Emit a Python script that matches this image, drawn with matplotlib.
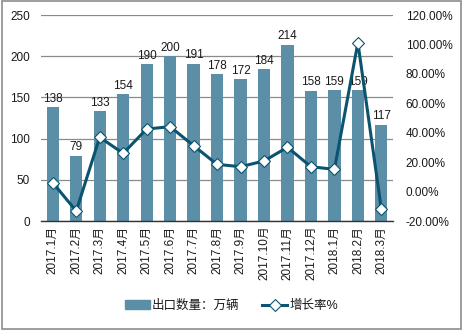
import matplotlib
matplotlib.use("Agg")
import matplotlib.pyplot as plt
from matplotlib.patches import Rectangle
from matplotlib.lines import Line2D
from matplotlib.ticker import FuncFormatter

plt.rcParams['font.family'] = ['Liberation Sans', 'Noto Sans CJK SC', 'DejaVu Sans']

months = ["2017.1月", "2017.2月", "2017.3月", "2017.4月", "2017.5月", "2017.6月",
          "2017.7月", "2017.8月", "2017.9月", "2017.10月", "2017.11月", "2017.12月",
          "2018.1月", "2018.2月", "2018.3月"]
export_qty = [138, 79, 133, 154, 190, 200, 191, 178, 172, 184, 214, 158, 159, 159, 117]
growth_pct = [6.0, -13.2, 36.9, 26.0, 42.5, 44.1, 31.2, 18.5, 16.9, 20.8, 30.1, 16.9,
              15.1, 101.2, -12.0]

bar_color = "#5b8fa7"
line_color = "#0b5470"
text_color = "#1a1a1a"

fig = plt.figure(figsize=(4.63, 3.30), dpi=100)
fig.patches.append(Rectangle((0.004, 0.004), 0.992, 0.992, transform=fig.transFigure,
                             fill=False, edgecolor="#8c8c8c", linewidth=1.2))

ax = fig.add_axes([0.0886, 0.3303, 0.7604, 0.6242])
x = list(range(len(months)))
bars = ax.bar(x, export_qty, width=0.52, color=bar_color, zorder=2)
ax.set_xlim(-0.5, len(months) - 0.5)
ax.set_ylim(0, 250)
ax.set_yticks([0, 50, 100, 150, 200, 250])
ax.grid(axis='y', color="#8a8a8a", linewidth=0.9, zorder=0)
ax.set_axisbelow(True)
for s in ["left", "right", "top"]:
    ax.spines[s].set_visible(False)
ax.spines["bottom"].set_color("#333333")
ax.spines["bottom"].set_linewidth(1.0)
ax.tick_params(axis='both', length=0, labelsize=8.5, colors=text_color)
ax.tick_params(axis='y', pad=8)
ax.set_xticks(x)
ax.set_xticklabels(months, rotation=90, fontsize=8.5)

for xi, v in zip(x, export_qty):
    ax.text(xi, v + 3, str(v), ha='center', va='bottom', fontsize=8.5, color=text_color, zorder=5)

ax2 = ax.twinx()
ax2.set_ylim(-20, 120)
ax2.set_yticks([-20, 0, 20, 40, 60, 80, 100, 120])
ax2.yaxis.set_major_formatter(FuncFormatter(lambda v, p: f"{v:.2f}%"))
ax2.plot(x, growth_pct, color=line_color, linewidth=2.2, marker='D', markersize=6.5,
         markerfacecolor='white', markeredgecolor=line_color, markeredgewidth=0.8, zorder=4)
for s in ["left", "right", "top", "bottom"]:
    ax2.spines[s].set_visible(False)
ax2.tick_params(axis='y', length=0, labelsize=8.5, colors=text_color, pad=9)

handles = [Rectangle((0, 0), 1, 1, color=bar_color),
           Line2D([0], [0], color=line_color, linewidth=2.2, marker='D', markersize=6,
                  markerfacecolor='white', markeredgecolor=line_color, markeredgewidth=0.8)]
fig.legend(handles, ["出口数量：万辆", "增长率%"], loc='center', bbox_to_anchor=(0.5, 0.073),
           ncol=2, frameon=False, fontsize=9, handlelength=2.0, handletextpad=0.2,
           columnspacing=1.8, labelcolor=text_color)

fig.savefig("out.png", dpi=100)
